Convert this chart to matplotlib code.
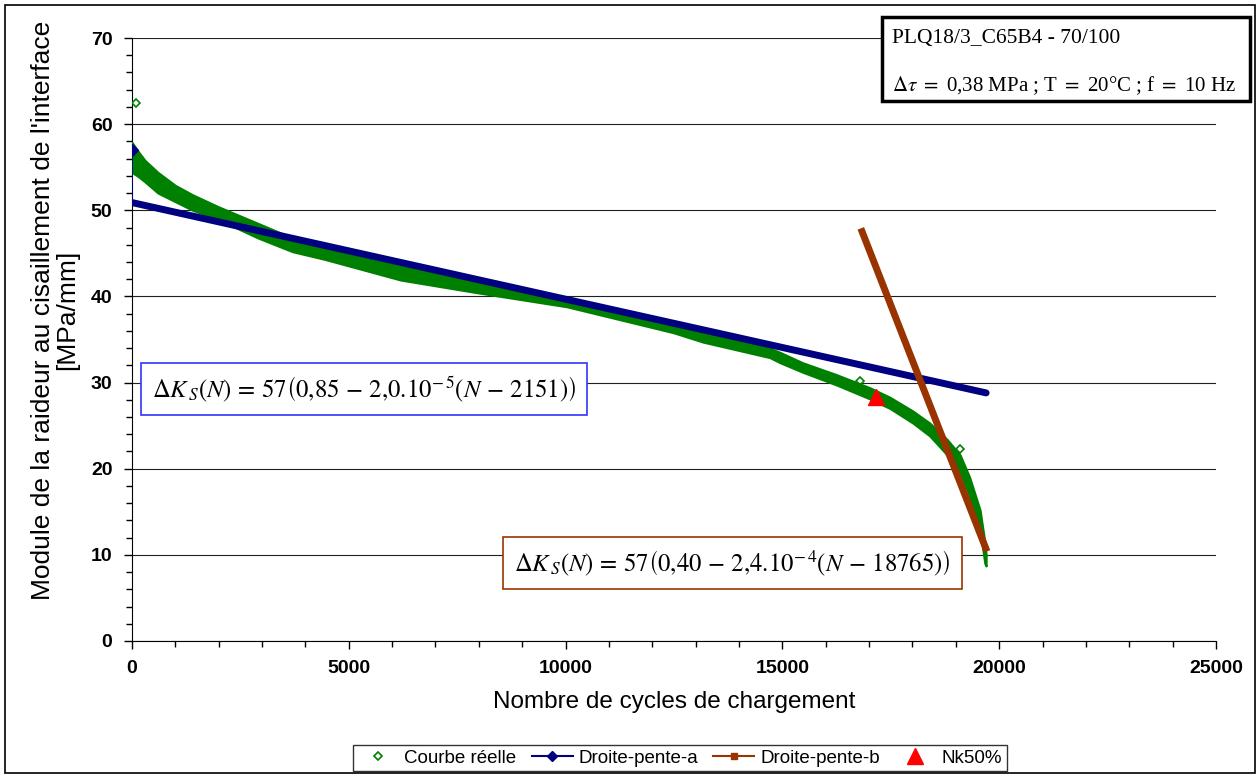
import numpy as np
import matplotlib.pyplot as plt
from matplotlib.lines import Line2D
from matplotlib.patches import Rectangle

plt.rcParams['font.family'] = ['Liberation Sans', 'DejaVu Sans']
plt.rcParams['mathtext.fontset'] = 'stix'

n_band = [0, 150, 300, 600, 1000, 1400, 2000, 2900, 3700, 4450, 6200, 8000,
          10030, 12480, 13170, 14710, 14950, 15470, 16260, 17020, 17480,
          18010, 18400, 18800, 19100, 19320, 19560, 19670, 19700]
k_upper = [57.9, 56.8, 55.8, 54.4, 52.9, 51.8, 50.4, 48.5, 46.8, 45.5, 43.5,
           41.8, 39.8, 37.0, 35.9, 34.0, 33.5, 32.3, 30.9, 29.4, 28.3, 26.7,
           25.3, 23.4, 21.6, 19.0, 15.2, 11.5, 10.0]
k_lower = [54.4, 53.9, 53.3, 52.0, 51.0, 50.0, 48.9, 46.8, 45.2, 44.3, 41.9,
           40.4, 38.8, 35.8, 34.7, 32.9, 32.3, 31.2, 29.7, 28.1, 27.0, 25.3,
           23.8, 21.6, 19.6, 16.8, 12.8, 9.0, 8.7]
# isolated points of the measured curve
n_out = [90, 16790, 19100]
k_out = [62.4, 30.2, 22.3]

# fitted lines
n_a = [0, 0, 19700]
k_a = [57.0, 50.9, 28.8]
n_b = [16810, 19720]
k_b = [47.9, 10.4]

# Nk50%
n_50 = [17150]
k_50 = [28.3]

green = '#008000'
navy = '#000080'
brown = '#993300'

fig = plt.figure(figsize=(12.59, 7.76), dpi=100)
ax = fig.add_axes([0.1048, 0.174, 0.861, 0.777])

ax.fill_between(n_band, k_lower, k_upper, color=green, lw=1.5, edgecolor=green, zorder=3)
ax.plot(n_out, k_out, 'D', ms=4, mfc='none', mec=green, mew=1.2, zorder=3)

ax.plot(n_a[:2], k_a[:2], color=navy, lw=1.2, zorder=4)
ax.plot(n_a[0], k_a[0], 'D', color=navy, ms=6, zorder=4)
ax.plot(n_a[1:], k_a[1:], color=navy, lw=5, solid_capstyle='round', zorder=4)
ax.plot(n_b, k_b, color=brown, lw=5, solid_capstyle='butt', zorder=5)
ax.plot(n_50, k_50, '^', color='red', ms=11, zorder=6)

ax.set_xlim(0, 25000)
ax.set_ylim(0, 70)
ax.set_xticks(np.arange(0, 25001, 5000))
ax.set_xticks(np.arange(0, 25001, 1000), minor=True)
ax.set_yticks(np.arange(0, 71, 10))
ax.set_yticks(np.arange(0, 71, 2), minor=True)
ax.tick_params(which='major', direction='out', length=6, width=1, labelsize=14, pad=8)
ax.tick_params(which='minor', direction='out', length=4, width=1)
for lab in ax.get_xticklabels() + ax.get_yticklabels():
    lab.set_fontweight('bold')
ax.spines['top'].set_visible(False)
ax.spines['right'].set_visible(False)
ax.grid(axis='y', which='major', color='#202020', lw=0.8)
ax.set_axisbelow(True)

ax.set_xlabel('Nombre de cycles de chargement', fontsize=17.5, labelpad=10)
fig.text(0.044, 1 - 310 / 776, "Module de la raideur au cisaillement de l'interface\n[MPa/mm]",
         rotation=90, ha='center', va='center', fontsize=19, linespacing=1.0)

eq_a = r'$\Delta K_{\,S}\left(N\right)\, = \,57\left(0{,}85\, -\, 2{,}0.10^{-\,5}\left(N\, -\, 2151\right)\right)$'
eq_b = r'$\Delta K_{\,S}\left(N\right)\, = \,57\left(0{,}40\, -\, 2{,}4.10^{-\,4}\left(N\, -\, 18765\right)\right)$'
ax.text(0.0185, 0.418, eq_a, transform=ax.transAxes, fontsize=17.8, va='center', ha='left',
        bbox=dict(boxstyle='square,pad=0.45', fc='white', ec='#3333ff', lw=1.2), zorder=7)
ax.text(0.3525, 0.129, eq_b, transform=ax.transAxes, fontsize=17.8, va='center', ha='left',
        bbox=dict(boxstyle='square,pad=0.45', fc='white', ec=brown, lw=1.2), zorder=7)

# info box top right
fig.patches.append(Rectangle((882 / 1259, 1 - 101 / 776), 368 / 1259, 84 / 776,
                             transform=fig.transFigure, fc='white', ec='black', lw=2.5, zorder=10))
fig.text(892 / 1259, 1 - 38 / 776, 'PLQ18/3_C65B4 - 70/100', family='Liberation Serif',
         fontsize=15.5, va='center', ha='left', zorder=11)
fig.text(892 / 1259, 1 - 86 / 776,
         r'$\Delta\tau\ =$ 0,38 MPa ; T $=$ 20°C ; f $=$ 10 Hz', family='Liberation Serif',
         fontsize=15, va='center', ha='left', zorder=11)

handles = [
    Line2D([], [], ls='none', marker='D', ms=4, mfc='none', mec=green, mew=1.2),
    Line2D([], [], color=navy, lw=1.5, marker='D', ms=5),
    Line2D([], [], color=brown, lw=1.5, marker='s', ms=5),
    Line2D([], [], ls='none', marker='^', color='red', ms=11),
]
labels = ['Courbe réelle', 'Droite-pente-a', 'Droite-pente-b', 'Nk50%']
lg = fig.legend(handles, labels, loc='center', bbox_to_anchor=(0.540, 0.023), ncol=4,
                fontsize=13.5, frameon=True, fancybox=False, edgecolor='black',
                handlelength=2.2, handletextpad=0.3, columnspacing=0.8, borderpad=0.25)
lg.get_frame().set_linewidth(1.0)

fig.patches.append(Rectangle((5 / 1259, 3 / 776), 1250 / 1259, 768 / 776,
                             transform=fig.transFigure, fc='none', ec='black', lw=1.2))

fig.savefig('out.png', dpi=100)
